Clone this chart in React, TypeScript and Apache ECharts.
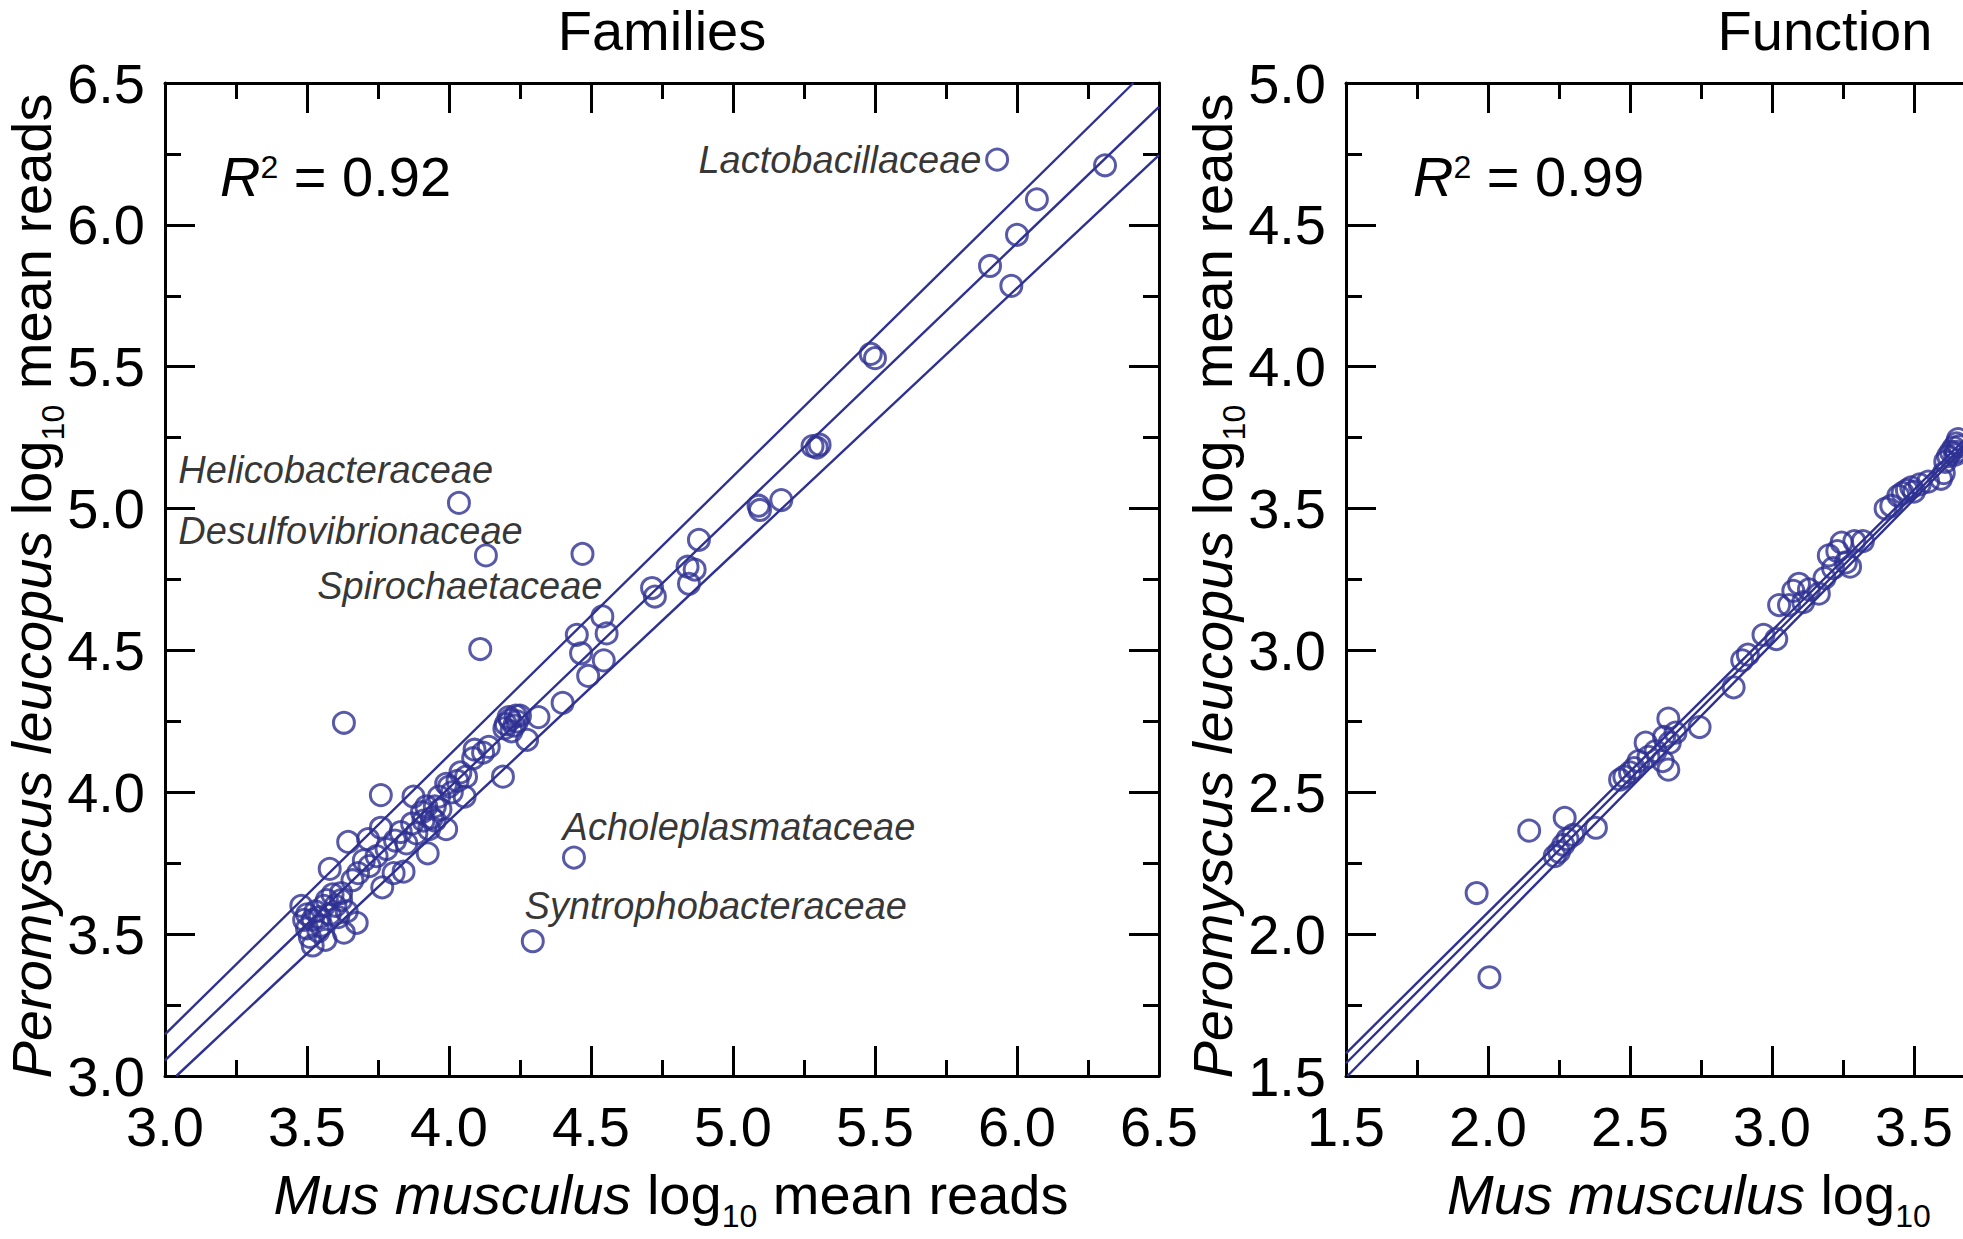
import React, { useEffect, useRef } from "react";
import * as echarts from "echarts";

const FONT = "'Liberation Sans', Arial, Helvetica, sans-serif";
const BLUE = "#2e3192";
const INK = "#000000";

// Families panel: [Mus musculus log10 mean reads, Peromyscus leucopus log10 mean reads]
const familyPoints: number[][] = [
  [5.93, 6.23], [6.31, 6.21], [6.07, 6.09], [6.0, 5.965], [5.905, 5.855], [5.98, 5.785],
  [5.485, 5.545], [5.5, 5.53], [5.28, 5.22], [5.295, 5.215], [5.305, 5.225],
  [5.17, 5.03], [5.09, 5.01], [5.095, 4.995], [4.88, 4.89], [4.84, 4.795], [4.865, 4.785],
  [4.845, 4.735], [4.715, 4.72], [4.725, 4.69],
  [4.035, 5.02], [4.13, 4.835], [4.47, 4.84], [4.11, 4.505], [3.63, 4.245],
  [4.44, 3.77], [4.295, 3.475], [4.19, 4.055], [3.76, 3.99], [3.875, 3.985],
  [4.54, 4.62], [4.45, 4.555], [4.555, 4.56], [4.465, 4.49], [4.545, 4.465], [4.49, 4.41],
  [4.4, 4.315], [4.315, 4.265], [4.275, 4.185],
  [4.2, 4.24], [4.215, 4.255], [4.23, 4.235], [4.21, 4.265], [4.24, 4.25], [4.195, 4.225],
  [4.25, 4.27], [4.22, 4.215], [4.235, 4.27],
  [4.09, 4.15], [4.12, 4.14], [4.14, 4.16], [4.04, 4.07], [4.055, 3.985], [4.03, 4.04],
  [4.06, 4.055], [4.085, 4.12], [4.0, 4.02],
  [3.965, 3.985], [3.99, 4.03], [4.01, 4.0], [3.905, 3.93], [3.87, 3.89], [3.94, 3.91],
  [3.95, 3.95], [3.93, 3.87], [3.885, 3.855], [3.99, 3.87], [3.925, 3.785], [3.92, 3.95],
  [3.97, 3.94], [3.95, 3.9], [3.91, 3.9],
  [3.81, 3.83], [3.715, 3.835], [3.645, 3.825], [3.76, 3.875], [3.745, 3.775], [3.78, 3.8],
  [3.68, 3.715], [3.58, 3.73], [3.84, 3.72], [3.805, 3.715], [3.765, 3.665], [3.62, 3.645],
  [3.85, 3.82], [3.7, 3.76], [3.66, 3.69], [3.72, 3.74], [3.83, 3.86],
  [3.675, 3.54], [3.63, 3.505], [3.52, 3.46], [3.48, 3.6], [3.5, 3.52], [3.52, 3.55],
  [3.53, 3.58], [3.545, 3.56], [3.55, 3.53], [3.56, 3.6], [3.58, 3.57], [3.49, 3.55],
  [3.51, 3.49], [3.57, 3.62], [3.6, 3.6], [3.54, 3.51], [3.59, 3.64], [3.61, 3.56],
  [3.5, 3.57], [3.565, 3.48], [3.64, 3.58], [3.62, 3.62],
];

// Function panel
const functionPoints: number[][] = [
  [1.96, 2.145], [2.005, 1.848], [2.145, 2.365], [2.27, 2.41], [2.38, 2.375],
  [2.235, 2.275], [2.25, 2.29], [2.265, 2.315], [2.28, 2.335], [2.3, 2.35],
  [2.465, 2.545], [2.48, 2.555], [2.5, 2.57], [2.515, 2.585], [2.53, 2.61],
  [2.555, 2.675], [2.565, 2.625], [2.59, 2.645], [2.615, 2.61], [2.635, 2.58],
  [2.64, 2.675], [2.635, 2.76], [2.62, 2.695], [2.66, 2.71], [2.745, 2.73],
  [2.865, 2.87], [2.895, 2.965], [2.915, 2.985], [2.97, 3.055], [3.015, 3.04],
  [3.025, 3.16], [3.06, 3.16], [3.075, 3.21], [3.095, 3.235], [3.11, 3.17],
  [3.13, 3.215], [3.165, 3.2], [3.185, 3.255], [3.2, 3.335], [3.215, 3.29],
  [3.23, 3.35], [3.245, 3.38], [3.26, 3.31], [3.275, 3.295], [3.29, 3.385],
  [3.32, 3.385], [3.4, 3.5], [3.42, 3.51], [3.445, 3.545], [3.46, 3.555],
  [3.475, 3.565], [3.49, 3.575], [3.5, 3.56], [3.52, 3.585], [3.55, 3.595],
  [3.595, 3.605], [3.605, 3.625], [3.61, 3.665], [3.62, 3.685], [3.63, 3.7],
  [3.64, 3.715], [3.645, 3.69], [3.65, 3.73], [3.655, 3.745], [3.66, 3.72], [3.648, 3.7],
];

// Regression line and band endpoints
const familyUpperLine: number[][] = [[3.0, 3.147], [6.41, 6.5]];
const familyFitLine: number[][] = [[3.0, 3.055], [6.5, 6.416]];
const familyLowerLine: number[][] = [[3.04, 3.0], [6.5, 6.246]];
const functionUpperLine: number[][] = [[1.5, 1.58], [3.7, 3.765]];
const functionFitLine: number[][] = [[1.5, 1.545], [3.7, 3.749]];
const functionLowerLine: number[][] = [[1.505, 1.5], [3.7, 3.736]];

// Annotated families (label anchor in data coordinates)
const familyLabelNames = [
  "Lactobacillaceae",
  "Helicobacteraceae",
  "Desulfovibrionaceae",
  "Spirochaetaceae",
  "Acholeplasmataceae",
  "Syntrophobacteraceae",
];
const familyLabelAnchors: number[][] = [
  [5.875, 6.23], [3.047, 5.135], [3.047, 4.922], [3.536, 4.726], [4.4, 3.878], [4.266, 3.6],
];

const panelTitles = ["Families", "Function"];
const r2Values = ["0.92", "0.99"];

const familiesX = [3.0, 6.5];
const familiesY = [3.0, 6.5];
const functionX = [1.5, 4.0];
const functionY = [1.5, 5.0];
const functionLabelLimit = 3.6;

const tickFmt = (limit: number) => (v: number) => {
  const k = v / 0.5;
  if (Math.abs(k - Math.round(k)) > 1e-6 || v > limit + 1e-6) return "";
  return v.toFixed(1);
};

const axisCommon = (gridIndex: number, range: number[]) => ({
  type: "value",
  gridIndex,
  min: range[0],
  max: range[1],
  interval: 0.5,
  axisLine: { show: true, onZero: false, lineStyle: { color: "#000", width: 3 } },
  axisTick: { show: true, inside: true, length: 30, lineStyle: { color: "#000", width: 3 } },
  minorTick: { show: true, splitNumber: 2, length: 16, lineStyle: { color: "#000", width: 3 } },
  splitLine: { show: false },
  minorSplitLine: { show: false },
});

const labelStyle = { fontSize: 56, fontFamily: FONT, color: "#000" };

const nameRich = {
  i: { fontStyle: "italic", fontSize: 56, fontFamily: FONT, lineHeight: 60, fill: "#000" },
  n: { fontSize: 56, fontFamily: FONT, lineHeight: 60, fill: "#000" },
  s: { fontSize: 32, fontFamily: FONT, lineHeight: 60, fill: "#000", padding: [44, 0, 0, 0] },
};
const r2Rich = {
  i: { fontStyle: "italic", fontSize: 56, fontFamily: FONT, lineHeight: 60, fill: "#000" },
  n: { fontSize: 56, fontFamily: FONT, lineHeight: 60, fill: "#000" },
  sup: { fontSize: 32, fontFamily: FONT, lineHeight: 60, fill: "#000", padding: [0, 0, 18, 0] },
};

const lineSeries = (data: number[][], axis: number) => ({
  type: "line",
  xAxisIndex: axis === 0 ? 0 : 2,
  yAxisIndex: axis === 0 ? 0 : 2,
  data,
  symbol: "none",
  silent: true,
  lineStyle: { color: BLUE, width: 2.4 },
  z: 3,
});

const circleStyle = { color: "rgba(0,0,0,0)", borderColor: BLUE, borderWidth: 3 };

export default function App() {
  const ref = useRef<HTMLDivElement>(null);

  useEffect(() => {
    if (!ref.current) return;
    const chart = echarts.init(ref.current, undefined, { renderer: "svg" });
    const option: any = {
      animation: false,
      backgroundColor: "#ffffff",
      textStyle: { fontFamily: FONT },
      grid: [
        { left: 165, top: 83, width: 994, height: 993, outerBoundsMode: "none" },
        { left: 1346, top: 83, width: 710, height: 993, outerBoundsMode: "none" },
      ],
      xAxis: [
        { ...axisCommon(0, familiesX), position: "bottom", axisLabel: { ...labelStyle, margin: 22, formatter: tickFmt(familiesX[1]) } },
        { ...axisCommon(0, familiesX), position: "top", axisLabel: { show: false } },
        { ...axisCommon(1, functionX), position: "bottom", axisLabel: { ...labelStyle, margin: 22, formatter: tickFmt(functionLabelLimit) } },
        { ...axisCommon(1, functionX), position: "top", axisLabel: { show: false } },
      ],
      yAxis: [
        { ...axisCommon(0, familiesY), position: "left", axisLabel: { ...labelStyle, margin: 20, formatter: tickFmt(familiesY[1]) } },
        { ...axisCommon(0, familiesY), position: "right", axisLabel: { show: false } },
        { ...axisCommon(1, functionY), position: "left", axisLabel: { ...labelStyle, margin: 20, formatter: tickFmt(functionY[1]) } },
      ],
      series: [
        lineSeries(familyUpperLine, 0),
        lineSeries(familyFitLine, 0),
        lineSeries(familyLowerLine, 0),
        lineSeries(functionUpperLine, 1),
        lineSeries(functionFitLine, 1),
        lineSeries(functionLowerLine, 1),
        {
          type: "scatter",
          xAxisIndex: 0,
          yAxisIndex: 0,
          data: familyPoints,
          symbol: "circle",
          symbolSize: 21,
          itemStyle: circleStyle,
          silent: true,
          z: 4,
        },
        {
          type: "scatter",
          xAxisIndex: 2,
          yAxisIndex: 2,
          data: functionPoints,
          symbol: "circle",
          symbolSize: 21,
          itemStyle: circleStyle,
          silent: true,
          clip: false,
          z: 4,
        },
        {
          type: "scatter",
          xAxisIndex: 0,
          yAxisIndex: 0,
          symbolSize: 0,
          silent: true,
          z: 5,
          data: familyLabelNames.map((name, i) => ({
            name,
            value: familyLabelAnchors[i],
            label: i === 0 ? { position: "left" } : undefined,
          })),
          itemStyle: { color: "rgba(0,0,0,0)" },
          label: {
            show: true,
            formatter: "{b}",
            position: "right",
            distance: 0,
            fontSize: 38,
            fontStyle: "italic",
            fontFamily: FONT,
            color: INK,
          },
        },
      ],
      graphic: [
        { type: "text", x: 662, y: 30, style: { text: panelTitles[0], fontSize: 56, fontFamily: FONT, fill: "#000", align: "center", verticalAlign: "middle" } },
        { type: "text", x: 1825, y: 30, style: { text: panelTitles[1], fontSize: 56, fontFamily: FONT, fill: "#000", align: "center", verticalAlign: "middle" } },
        { type: "text", x: 220, y: 176, style: { text: `{i|R}{sup|2}{n| = ${r2Values[0]}}`, rich: r2Rich, align: "left", verticalAlign: "middle" } },
        { type: "text", x: 1413, y: 176, style: { text: `{i|R}{sup|2}{n| = ${r2Values[1]}}`, rich: r2Rich, align: "left", verticalAlign: "middle" } },
        { type: "text", x: 671, y: 1194, style: { text: "{i|Mus musculus }{n|log}{s|10}{n| mean reads}", rich: nameRich, align: "center", verticalAlign: "middle" } },
        { type: "text", x: 1447, y: 1194, style: { text: "{i|Mus musculus }{n|log}{s|10}", rich: nameRich, align: "left", verticalAlign: "middle" } },
        { type: "text", x: 31, y: 586, rotation: Math.PI / 2, style: { text: "{i|Peromyscus leucopus }{n|log}{s|10}{n| mean reads}", rich: nameRich, align: "center", verticalAlign: "middle" } },
        { type: "text", x: 1212, y: 586, rotation: Math.PI / 2, style: { text: "{i|Peromyscus leucopus }{n|log}{s|10}{n| mean reads}", rich: nameRich, align: "center", verticalAlign: "middle" } },
      ],
    };
    chart.setOption(option);
    return () => chart.dispose();
  }, []);

  return (
    <div
      ref={ref}
      style={{ position: "fixed", left: 0, top: 0, width: 1963, height: 1239, background: "#fff", overflow: "hidden" }}
    />
  );
}
